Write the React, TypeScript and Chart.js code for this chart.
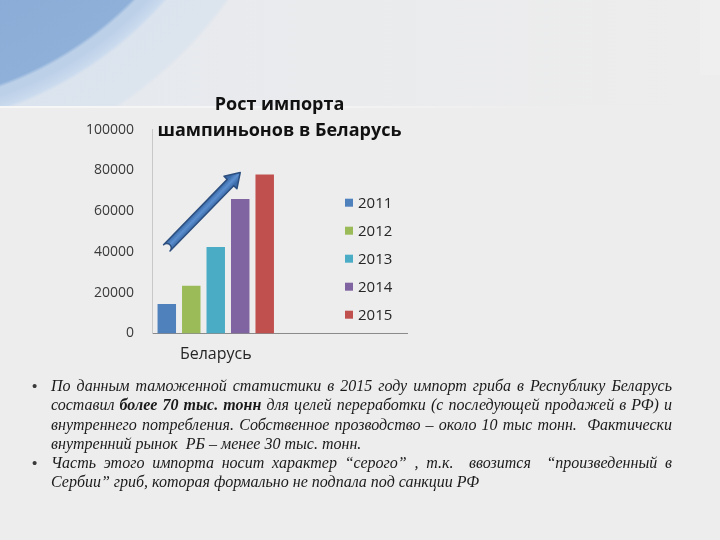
import * as React from 'react';
import { useEffect, useRef } from 'react';
import { Chart, registerables } from 'chart.js';

Chart.register(...registerables);

// данные
const countries = ['Беларусь', ''];
const years = ['2011', '2012', '2013', '2014', '2015'];
const importTonnes = [14500, 23400, 42400, 66000, 78000];
const yearColors = ['#4F81BD', '#9BBB59', '#4BACC6', '#8064A2', '#C0504D'];
const titleLines = ['Рост импорта', 'шампиньонов в Беларусь'];
const arrowFrom = 42000; // у столбца 2011
const arrowTo = 79000; // у столбца 2014

const FONT = '"Open Sans", "DejaVu Sans", sans-serif';

// легенда внутри области графика, справа
const insideLegend = {
  id: 'insideLegend',
  afterDraw(chart: any) {
    const { ctx, chartArea } = chart;
    ctx.save();
    ctx.font = `15px ${FONT}`;
    ctx.textBaseline = 'middle';
    chart.data.datasets.forEach((ds: any, i: number) => {
      const x = chartArea.right - 62;
      const y = chartArea.top + 73 + i * 28;
      ctx.fillStyle = ds.backgroundColor;
      ctx.fillRect(x, y - 4, 8, 8);
      ctx.fillStyle = '#262626';
      ctx.fillText(ds.label, x + 13, y + 1);
    });
    ctx.restore();
  },
};

// синяя стрелка роста
const growthArrow = {
  id: 'growthArrow',
  afterDatasetsDraw(chart: any) {
    const { ctx } = chart;
    const ys = chart.scales.y;
    const a = chart.getDatasetMeta(0).data[0];
    const b = chart.getDatasetMeta(3).data[0];
    if (!a || !b) return;
    const x0 = a.x, y0 = ys.getPixelForValue(arrowFrom);
    const x1 = b.x, y1 = ys.getPixelForValue(arrowTo);
    const dx = x1 - x0, dy = y1 - y0;
    const len = Math.hypot(dx, dy);
    const ux = dx / len, uy = dy / len;
    const nx = -uy, ny = ux;
    const sw = 4.5, hw = 9, hl = 14;
    const bx = x1 - ux * hl, by = y1 - uy * hl;
    ctx.save();
    ctx.beginPath();
    ctx.moveTo(x0 + nx * sw, y0 + ny * sw);
    ctx.lineTo(bx + nx * sw, by + ny * sw);
    ctx.lineTo(bx + nx * hw, by + ny * hw);
    ctx.lineTo(x1, y1);
    ctx.lineTo(bx - nx * hw, by - ny * hw);
    ctx.lineTo(bx - nx * sw, by - ny * sw);
    ctx.lineTo(x0 - nx * sw, y0 - ny * sw);
    ctx.arc(x0, y0, sw, Math.atan2(-ny, -nx), Math.atan2(ny, nx), false);
    ctx.closePath();
    const g = ctx.createLinearGradient(x0 + nx * sw, y0 + ny * sw, x0 - nx * sw, y0 - ny * sw);
    g.addColorStop(0, '#3A6AA8');
    g.addColorStop(0.5, '#5C8FCF');
    g.addColorStop(1, '#3A6AA8');
    ctx.fillStyle = g;
    ctx.fill();
    ctx.lineJoin = 'round';
    ctx.lineWidth = 1.5;
    ctx.strokeStyle = '#2C4F7F';
    ctx.stroke();
    ctx.restore();
  },
};

function ImportChart() {
  const canvasRef = useRef<HTMLCanvasElement>(null);

  useEffect(() => {
    const ctx = canvasRef.current;
    if (!ctx) return;
    const chart = new Chart(ctx, {
      type: 'bar',
      data: {
        labels: countries,
        datasets: years.map((y, i) => ({
          label: y,
          data: [importTonnes[i]],
          backgroundColor: yearColors[i],
          borderWidth: 0,
          categoryPercentage: 0.96,
          barPercentage: 0.755,
        })),
      },
      options: {
        responsive: false,
        animation: false,
        layout: { padding: { left: 60, right: 313, top: 0, bottom: 166.5 } },
        plugins: {
          legend: { display: false },
          tooltip: { enabled: false },
          title: {
            display: true,
            text: titleLines,
            fullSize: false,
            color: '#111111',
            font: { family: FONT, size: 18, weight: 'bold', lineHeight: 1.45 },
            padding: { top: 92, bottom: -14.5 },
          },
        },
        scales: {
          x: {
            grid: { display: false, drawTicks: false },
            border: { display: true, color: '#8A8A8A', width: 1 },
            ticks: {
              color: '#262626',
              font: { family: FONT, size: 16 },
              padding: 11,
              maxRotation: 0,
            },
            afterFit: (s: any) => { s.height = 40; },
          },
          y: {
            min: 0,
            max: 100000,
            grid: { display: false, drawTicks: false },
            border: { display: true, color: '#C8C8C8', width: 1 },
            ticks: {
              stepSize: 20000,
              color: '#3A3A3A',
              font: { family: FONT, size: 14 },
              padding: 18,
              callback: (v: any) => String(v),
            },
            afterFit: (s: any) => { s.width = 92; },
          },
        },
      },
      plugins: [growthArrow, insideLegend],
    });
    return () => chart.destroy();
  }, []);

  return (
    <canvas
      ref={canvasRef}
      width={720}
      height={540}
      style={{ position: 'absolute', left: 0, top: 0, width: 720, height: 540 }}
    />
  );
}

const para1 = [
  <>По данным таможенной статистики в 2015 году импорт гриба в Республику Беларусь</>,
  <>составил <b>более 70 тыс. тонн</b> для целей переработки (с последующей продажей в РФ) и</>,
  <>внутреннего потребления. Собственное прозводство – около 10 тыс тонн.&nbsp; Фактически</>,
  <>внутренний рынок&nbsp; РБ – менее 30 тыс. тонн.</>,
];
const para2 = [
  <>Часть этого импорта носит характер “серого” , т.к.&nbsp; ввозится&nbsp; “произведенный в</>,
  <>Сербии” гриб, которая формально не подпала под санкции РФ</>,
];

function Paragraph({ lines, top }: { lines: React.ReactNode[]; top: number }) {
  return (
    <div style={{ position: 'absolute', left: 51, top, width: 621 }}>
      <span
        style={{ position: 'absolute', left: -19, top: 0, fontStyle: 'normal', fontSize: 15, color: '#3A3A3A', fontFamily: '"Liberation Sans", sans-serif' }}
      >
        •
      </span>
      {lines.map((l, i) => {
        const last = i === lines.length - 1;
        return (
          <div
            key={i}
            style={{
              textAlign: last ? 'left' : 'justify',
              textAlignLast: last ? 'left' : 'justify',
            } as React.CSSProperties}
          >
            {l}
          </div>
        );
      })}
    </div>
  );
}

export default function App() {
  return (
    <div
      style={{
        position: 'absolute',
        left: 0,
        top: 0,
        width: 720,
        height: 540,
        overflow: 'hidden',
        background: '#EDEDED',
      }}
    >
      <div
        style={{
          position: 'absolute',
          left: 0,
          top: 0,
          width: 720,
          height: 106,
          overflow: 'hidden',
          background:
            'radial-gradient(circle 358px at -120px -250px, #7E9FCB 0%, #8FB0D9 99%, transparent 100%),' +
            'radial-gradient(circle 381px at -120px -250px, #BCD0E8 96%, #CADAEE 99%, transparent 100%),' +
            'radial-gradient(circle 430px at -120px -250px, #D6E1EE 0%, #DCE4EE 99%, transparent 100%),' +
            'linear-gradient(90deg, #E3E8EF 0%, #EAEBED 45%, #EDEDED 100%)',
        }}
      />
      <div
        style={{
          position: 'absolute',
          left: 0,
          top: 106,
          width: 560,
          height: 2,
          background: 'linear-gradient(90deg, rgba(255,255,255,0.55) 0%, rgba(255,255,255,0.35) 60%, rgba(255,255,255,0) 100%)',
        }}
      />
      <div
        style={{
          position: 'absolute',
          left: 700,
          top: 0,
          width: 20,
          height: 75,
          background: 'rgba(255,255,255,0.12)',
        }}
      />
      <ImportChart />
      <div
        style={{
          fontFamily: '"Liberation Serif", "Times New Roman", serif',
          fontStyle: 'italic',
          fontSize: 16,
          lineHeight: '19.3px',
          color: '#1A1A1A',
        }}
      >
        <Paragraph lines={para1} top={376} />
        <Paragraph lines={para2} top={453} />
      </div>
    </div>
  );
}
